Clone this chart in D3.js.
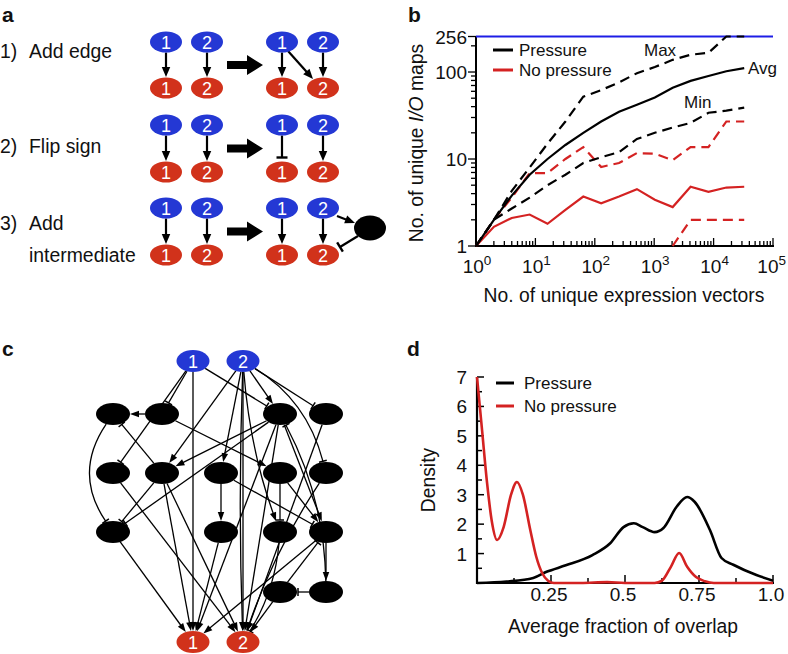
<!DOCTYPE html>
<html><head><meta charset="utf-8">
<script src="https://cdn.jsdelivr.net/npm/d3@7"></script>
<style>
body{margin:0;background:#fff}
svg{display:block}
text{font-family:"Liberation Sans",Arial,Helvetica,sans-serif;fill:#111}
</style>
</head><body>
<svg id="fig" width="788" height="654"></svg>
<script>
// ---------------- DATA ----------------
// Panel b: number of unique I/O maps vs number of unique expression vectors
const vectorCounts   = [1,2,4,8,16,32,64,128,256,512,1024,2048,4096,8192,16384,32768];
const pressureMax    = [1,2,4.3,8,15,27,52,62,76,97,114,138,158,166,256,256];
const pressureAvg    = [1,2,3.8,6.6,10,14.5,20,27,35,42,51,66,79,90,102,111];
const pressureMin    = [1,2,2.7,3.6,5,6.6,9,10.5,12,17,20,23,26,34,36,39];
const noPressureMax  = [1,2,3.6,6.9,6.9,10,13.7,8.1,9,11.7,11.5,9.7,13.7,13.7,27,27];
const noPressureAvg  = [1,1.66,2.1,2.3,1.8,2.6,3.7,3.1,3.7,4.5,3.4,2.8,4.8,4.2,4.7,4.8];
const noPressureMin  = [null,null,null,null,null,null,null,null,null,null,null,1,2,2,2,2];
const bYTickValues   = [1,10,100,256];
const bYTickLabels   = ["1","10","100","256"];
const bXTickExponents= [0,1,2,3,4,5];
const bLegend        = ["Pressure","No pressure"];
const bCurveLabels   = ["Max","Avg","Min"];

// Panel d: density of average fraction of overlap
const pressureFrac   = [0,0.1,0.19,0.235,0.3,0.39,0.45,0.495,0.53,0.56,0.6,0.63,0.675,0.71,0.735,0.787,0.826,0.866,0.944,1.0];
const pressureDens   = [0,0.05,0.17,0.38,0.6,0.95,1.35,1.9,2.03,1.9,1.73,1.87,2.6,2.92,2.76,1.8,0.85,0.62,0.27,0.08];
const noPressFrac    = [0,0.017,0.034,0.05,0.068,0.09,0.115,0.135,0.155,0.18,0.2,0.22,0.24,0.26,0.35,0.44,0.5,0.6,0.625,0.655,0.683,0.71,0.74,0.77,0.8,0.9,1.0];
const noPressDens    = [7,5.2,3.4,2.1,1.46,1.9,3.0,3.43,3.0,1.8,0.9,0.34,0.08,0,0,0.03,0,0,0.08,0.55,1.02,0.55,0.2,0.06,0,0,0];
const dXTickValues   = [0.25,0.5,0.75,1.0];
const dXTickLabels   = ["0.25","0.5","0.75","1.0"];
const dYTickValues   = [1,2,3,4,5,6,7];

// Panel a: mutation types
const mutationNumbers = ["1)","2)","3)"];
const mutationNames   = [["Add edge"],["Flip sign"],["Add","intermediate"]];

// Panel c: network (nodes and edges)
const cNodeIds   = ["I1","I2","A","B","C","D","E","F","G","H","J","K","L","M","N","P","Q","O1","O2"];
const cNodeKinds = ["in","in","mid","mid","mid","mid","mid","mid","mid","mid","mid","mid","mid","mid","mid","mid","mid","out","out"];
const cNodeLabels= ["1","2","","","","","","","","","","","","","","","","1","2"];
const cEdges = [
  ["I1","E","tee",0],["I1","B","tee",0],["I1","O1","arrow",0],["I1","C","tee",0],
  ["I2","F","arrow",0],["I2","G","arrow",0],["I2","O2","arrow",0],["I2","O2","arrow",5],
  ["I2","C","arrow",0],["I2","D","tee",0],["I2","J","tee",-28],["I2","M","arrow",12],
  ["B","A","arrow",0],["F","A","tee",0],["A","K","tee",40],["B","H","arrow",0],
  ["C","F","arrow",0],["C","K","tee",0],["C","O1","arrow",0],["C","O2","arrow",0],
  ["C","N","arrow",0],["D","O2","arrow",0],["Q","C","tee",22],["G","L","arrow",0],
  ["G","N","tee",0],["H","N","arrow",0],["H","M","tee",0],["E","O2","arrow",0],
  ["F","O1","arrow",0],["F","O2","arrow",0],["F","K","tee",0],["K","O1","arrow",0],
  ["L","O1","arrow",0],["M","O2","tee",-14],["N","O1","arrow",0],["N","Q","arrow",0],
  ["Q","P","tee",0],["P","N","tee",0],["P","O2","arrow",0],["J","O2","arrow",12]
];

// ---------------- LAYOUT / STYLE ----------------
const BLUE = "#2438d4", RED = "#d1321b", LRED = "#d42222";
const FS_AX = "19.3px", FS_TICK = "19px", FS_LEG = "17px";
const svg = d3.select("#fig");

function panelLetter(t, x, y){
  svg.append("text").attr("x",x).attr("y",y).text(t)
    .style("font-weight","bold").style("font-size","21px");
}
function arrowHead(g, x, y, ang, len, wid){
  const cx = Math.cos(ang), sx = Math.sin(ang);
  const bx = x - cx*len, by = y - sx*len;
  g.append("path").attr("d",
    `M${x},${y}L${bx - sx*wid/2},${by + cx*wid/2}L${bx + sx*wid/2},${by - cx*wid/2}Z`)
    .attr("fill","#000");
}
function teeHead(g, x, y, ang, wid, sw){
  const cx = Math.cos(ang), sx = Math.sin(ang);
  g.append("line").attr("x1",x - sx*wid/2).attr("y1",y + cx*wid/2)
    .attr("x2",x + sx*wid/2).attr("y2",y - cx*wid/2)
    .attr("stroke","#000").attr("stroke-width",sw);
}
function ellipseBoundary(n, dx, dy, rx, ry){
  const L = Math.hypot(dx,dy); dx/=L; dy/=L;
  const t = 1/Math.sqrt((dx/rx)**2 + (dy/ry)**2);
  return [n.x + dx*t, n.y + dy*t];
}

// ---------------- PANEL a ----------------
panelLetter("a", 2, 22);
(function(){
  const g = svg.append("g");
  const rowY = [[42,88],[125,172],[208,255]];
  const textY = [[58],[153],[230,262]];
  const leftX = [166,207], rightX = [282,323];
  const rx = 16, ry = 10.5;
  mutationNumbers.forEach((num,i)=>{
    g.append("text").attr("x",0).attr("y",textY[i][0]).text(num).style("font-size","19.4px");
    mutationNames[i].forEach((nm,j)=>{
      g.append("text").attr("x",29).attr("y",textY[i][j]).text(nm).style("font-size","19.4px");
    });
  });
  function node(x,y,fill,label){
    g.append("ellipse").attr("cx",x).attr("cy",y).attr("rx",rx).attr("ry",ry).attr("fill",fill);
    if(label) g.append("text").attr("x",x).attr("y",y+6.5).attr("text-anchor","middle")
      .text(label).style("fill","#fff").style("font-size","18px");
  }
  function edge(x1,y1,x2,y2,type){
    const ang = Math.atan2(y2-y1,x2-x1);
    const back = type==="arrow" ? 7 : 0;
    g.append("line").attr("x1",x1).attr("y1",y1)
      .attr("x2",x2 - Math.cos(ang)*back).attr("y2",y2 - Math.sin(ang)*back)
      .attr("stroke","#000").attr("stroke-width",2.2);
    if(type==="arrow") arrowHead(g,x2,y2,ang,10,8.5);
    else teeHead(g,x2,y2,ang,11,2.4);
  }
  rowY.forEach(([yb,yr],i)=>{
    [leftX,rightX].forEach((xs,side)=>{
      xs.forEach((x,k)=>{
        const tee = (i===1 && side===1 && k===0);
        edge(x,yb+ry,x,tee? yr-ry-4 : yr-ry-0.5, tee?"tee":"arrow");
      });
    });
    const ya = (yb+yr)/2;
    g.append("path").attr("d",`M227,${ya-4}L247,${ya-4}L247,${ya-10}L263,${ya}L247,${ya+10}L247,${ya+4}L227,${ya+4}Z`).attr("fill","#000");
  });
  edge(288,51,313,79,"arrow");
  const bx=370, by=228;
  edge(337,216,355,223,"arrow");
  edge(358,236,340,247,"tee");
  g.append("ellipse").attr("cx",bx).attr("cy",by).attr("rx",16).attr("ry",12.5).attr("fill","#000");
  rowY.forEach(([yb,yr])=>{
    [...leftX,...rightX].forEach((x,k)=>{
      node(x,yb,BLUE,String(k%2+1));
      node(x,yr,RED,String(k%2+1));
    });
  });
})();

// ---------------- PANEL b ----------------
panelLetter("b", 408, 22);
(function(){
  const g = svg.append("g");
  const x = d3.scaleLog().domain([1,1e5]).range([476,773]);
  const y = d3.scaleLog().domain([1,256]).range([246,36.5]);
  for(let e=0;e<5;e++){
    for(let m=1;m<10;m++){
      const v = m*10**e, px = x(v);
      g.append("line").attr("x1",px).attr("x2",px).attr("y1",246).attr("y2",246-(m===1?8:5))
        .attr("stroke","#000").attr("stroke-width",1.3);
    }
  }
  g.append("line").attr("x1",x(1e5)).attr("x2",x(1e5)).attr("y1",246).attr("y2",238).attr("stroke","#000").attr("stroke-width",1.3);
  const yMinor = [];
  for(let e=0;e<3;e++) for(let m=1;m<10;m++){ const v=m*10**e; if(v<=256) yMinor.push(v); }
  yMinor.forEach(v=>{
    const major = (v===1||v===10||v===100);
    g.append("line").attr("x1",476).attr("x2",476-(major?8:5)).attr("y1",y(v)).attr("y2",y(v))
      .attr("stroke","#000").attr("stroke-width",1.3);
  });
  g.append("line").attr("x1",476).attr("x2",468).attr("y1",y(256)).attr("y2",y(256)).attr("stroke","#000").attr("stroke-width",1.3);
  g.append("line").attr("x1",476).attr("x2",476).attr("y1",y(256)).attr("y2",247).attr("stroke","#000").attr("stroke-width",2);
  g.append("line").attr("x1",475).attr("x2",774).attr("y1",246).attr("y2",246).attr("stroke","#000").attr("stroke-width",2);
  g.append("line").attr("x1",476).attr("x2",773).attr("y1",y(256)).attr("y2",y(256)).attr("stroke","#1e1ee6").attr("stroke-width",2);
  bYTickValues.forEach((v,i)=>{
    g.append("text").attr("x",467).attr("y",y(v)+7).attr("text-anchor","end").text(bYTickLabels[i]).style("font-size",FS_TICK);
  });
  bXTickExponents.forEach(e=>{
    const last = (e===bXTickExponents[bXTickExponents.length-1]);
    const t = g.append("text").attr("x",last ? 786 : x(10**e)+1).attr("y",273)
      .attr("text-anchor",last?"end":"middle").style("font-size",FS_TICK);
    t.append("tspan").text("10");
    t.append("tspan").attr("dy",-8).style("font-size","13.5px").text(String(e));
  });
  g.append("text").attr("x",624).attr("y",302).attr("text-anchor","middle").text("No. of unique expression vectors").style("font-size",FS_AX);
  const yl = g.append("text").attr("transform","translate(423,143) rotate(-90)").attr("text-anchor","middle").style("font-size",FS_AX);
  yl.append("tspan").text("No. of unique ");
  yl.append("tspan").style("font-style","italic").text("I/O");
  yl.append("tspan").text(" maps");
  const line = d3.line().defined(d=>d[1]!==null).x(d=>x(d[0])).y(d=>y(d[1]));
  function series(vals,color,dash){
    g.append("path").attr("d",line(vectorCounts.map((c,i)=>[c,vals[i]])))
      .attr("fill","none").attr("stroke",color).attr("stroke-width",2.2)
      .attr("stroke-dasharray",dash||null);
  }
  series(noPressureAvg,LRED);
  series(noPressureMax,LRED,"10,6");
  series(noPressureMin,LRED,"10,6");
  series(pressureMin,"#000","10,6");
  series(pressureMax,"#000","10,6");
  series(pressureAvg,"#000");
  [["#000",50],[LRED,70]].forEach(([c,yy],i)=>{
    g.append("line").attr("x1",493).attr("x2",513).attr("y1",yy).attr("y2",yy).attr("stroke",c).attr("stroke-width",3);
    g.append("text").attr("x",519).attr("y",yy+6).text(bLegend[i]).style("font-size",FS_LEG);
  });
  g.append("text").attr("x",644).attr("y",56).text(bCurveLabels[0]).style("font-size",FS_LEG);
  g.append("text").attr("x",748).attr("y",74).text(bCurveLabels[1]).style("font-size",FS_LEG);
  g.append("text").attr("x",684).attr("y",108).text(bCurveLabels[2]).style("font-size",FS_LEG);
})();

// ---------------- PANEL c ----------------
panelLetter("c", 2, 356);
(function(){
  const g = svg.append("g");
  const pos = {
    I1:[193,361], I2:[243,361],
    A:[113,414], B:[162,414], C:[280,414], D:[326,414],
    E:[113,473], F:[162,473], G:[221,473], H:[280,473], J:[326,473],
    K:[113,532], L:[221,532], M:[280,532], N:[326,532],
    P:[280,592], Q:[326,592],
    O1:[193,642], O2:[243,642]
  };
  const nodes = {};
  cNodeIds.forEach((id,i)=>{
    nodes[id] = {x:pos[id][0], y:pos[id][1], kind:cNodeKinds[i], label:cNodeLabels[i],
      rx: cNodeKinds[i]==="mid"?17:16.5, ry: 11};
  });
  const eg = g.append("g");
  cEdges.forEach(([s,t,type,bend])=>{
    const a = nodes[s], b = nodes[t];
    const dx = b.x-a.x, dy = b.y-a.y, L = Math.hypot(dx,dy);
    const nx = -dy/L, ny = dx/L;
    const cx = (a.x+b.x)/2 + nx*bend, cy = (a.y+b.y)/2 + ny*bend;
    const [sx,sy] = ellipseBoundary(a, cx-a.x, cy-a.y, a.rx, a.ry);
    const [ex,ey] = ellipseBoundary(b, cx-b.x, cy-b.y, b.rx, b.ry);
    const ang = Math.atan2(ey-cy, ex-cx);
    const back = type==="arrow" ? 6 : 1;
    const lx = ex - Math.cos(ang)*back, ly = ey - Math.sin(ang)*back;
    eg.append("path").attr("d",`M${sx},${sy}Q${cx},${cy} ${lx},${ly}`)
      .attr("fill","none").attr("stroke","#000").attr("stroke-width",1.3);
    if(type==="arrow") arrowHead(eg,ex,ey,ang,9,6.5);
    else teeHead(eg,ex-Math.cos(ang)*1,ey-Math.sin(ang)*1,ang,8,1.5);
  });
  cNodeIds.forEach(id=>{
    const n = nodes[id];
    const fill = n.kind==="in"?BLUE:(n.kind==="out"?RED:"#000");
    g.append("ellipse").attr("cx",n.x).attr("cy",n.y).attr("rx",n.rx).attr("ry",n.ry).attr("fill",fill);
    if(n.label) g.append("text").attr("x",n.x).attr("y",n.y+6.5).attr("text-anchor","middle")
      .text(n.label).style("fill","#fff").style("font-size","18px");
  });
})();

// ---------------- PANEL d ----------------
panelLetter("d", 407, 356);
(function(){
  const g = svg.append("g");
  const x = d3.scaleLinear().domain([0,1]).range([477,773]);
  const y = d3.scaleLinear().domain([0,7]).range([583,377]);
  for(let i=1;i<=8;i++){
    const v=i*0.125, major = (i%2===0);
    g.append("line").attr("x1",x(v)).attr("x2",x(v)).attr("y1",583).attr("y2",583-(major?8:5))
      .attr("stroke","#000").attr("stroke-width",1.5);
  }
  for(let i=1;i<=14;i++){
    const v=i*0.5, major=(i%2===0);
    g.append("line").attr("x1",477).attr("x2",477+(major?7:5)).attr("y1",y(v)).attr("y2",y(v))
      .attr("stroke","#000").attr("stroke-width",1.5);
  }
  g.append("line").attr("x1",477).attr("x2",477).attr("y1",y(7)).attr("y2",584).attr("stroke","#000").attr("stroke-width",2.2);
  g.append("line").attr("x1",476).attr("x2",774).attr("y1",583).attr("y2",583).attr("stroke","#000").attr("stroke-width",2.2);
  dXTickValues.forEach((v,i)=>{
    g.append("text").attr("x",x(v)-2).attr("y",601).attr("text-anchor","middle").text(dXTickLabels[i]).style("font-size",FS_TICK);
  });
  dYTickValues.forEach(v=>{
    g.append("text").attr("x",467).attr("y",y(v)+7).attr("text-anchor","end").text(String(v)).style("font-size",FS_TICK);
  });
  g.append("text").attr("x",623).attr("y",633).attr("text-anchor","middle").text("Average fraction of overlap").style("font-size",FS_AX);
  g.append("text").attr("transform","translate(435,480) rotate(-90)").attr("text-anchor","middle").text("Density").style("font-size",FS_AX);
  const line = d3.line().x(d=>x(d[0])).y(d=>y(d[1])).curve(d3.curveMonotoneX);
  g.append("path").attr("d",line(pressureFrac.map((f,i)=>[f,pressureDens[i]])))
    .attr("fill","none").attr("stroke","#000").attr("stroke-width",2.6);
  g.append("path").attr("d",line(noPressFrac.map((f,i)=>[f,noPressDens[i]])))
    .attr("fill","none").attr("stroke",LRED).attr("stroke-width",2.6);
  [["#000",383,"Pressure"],[LRED,406,"No pressure"]].forEach(([c,yy,t])=>{
    g.append("line").attr("x1",496).attr("x2",514).attr("y1",yy).attr("y2",yy).attr("stroke",c).attr("stroke-width",3);
    g.append("text").attr("x",524).attr("y",yy+6).text(t).style("font-size",FS_LEG);
  });
})();
</script>
</body></html>
